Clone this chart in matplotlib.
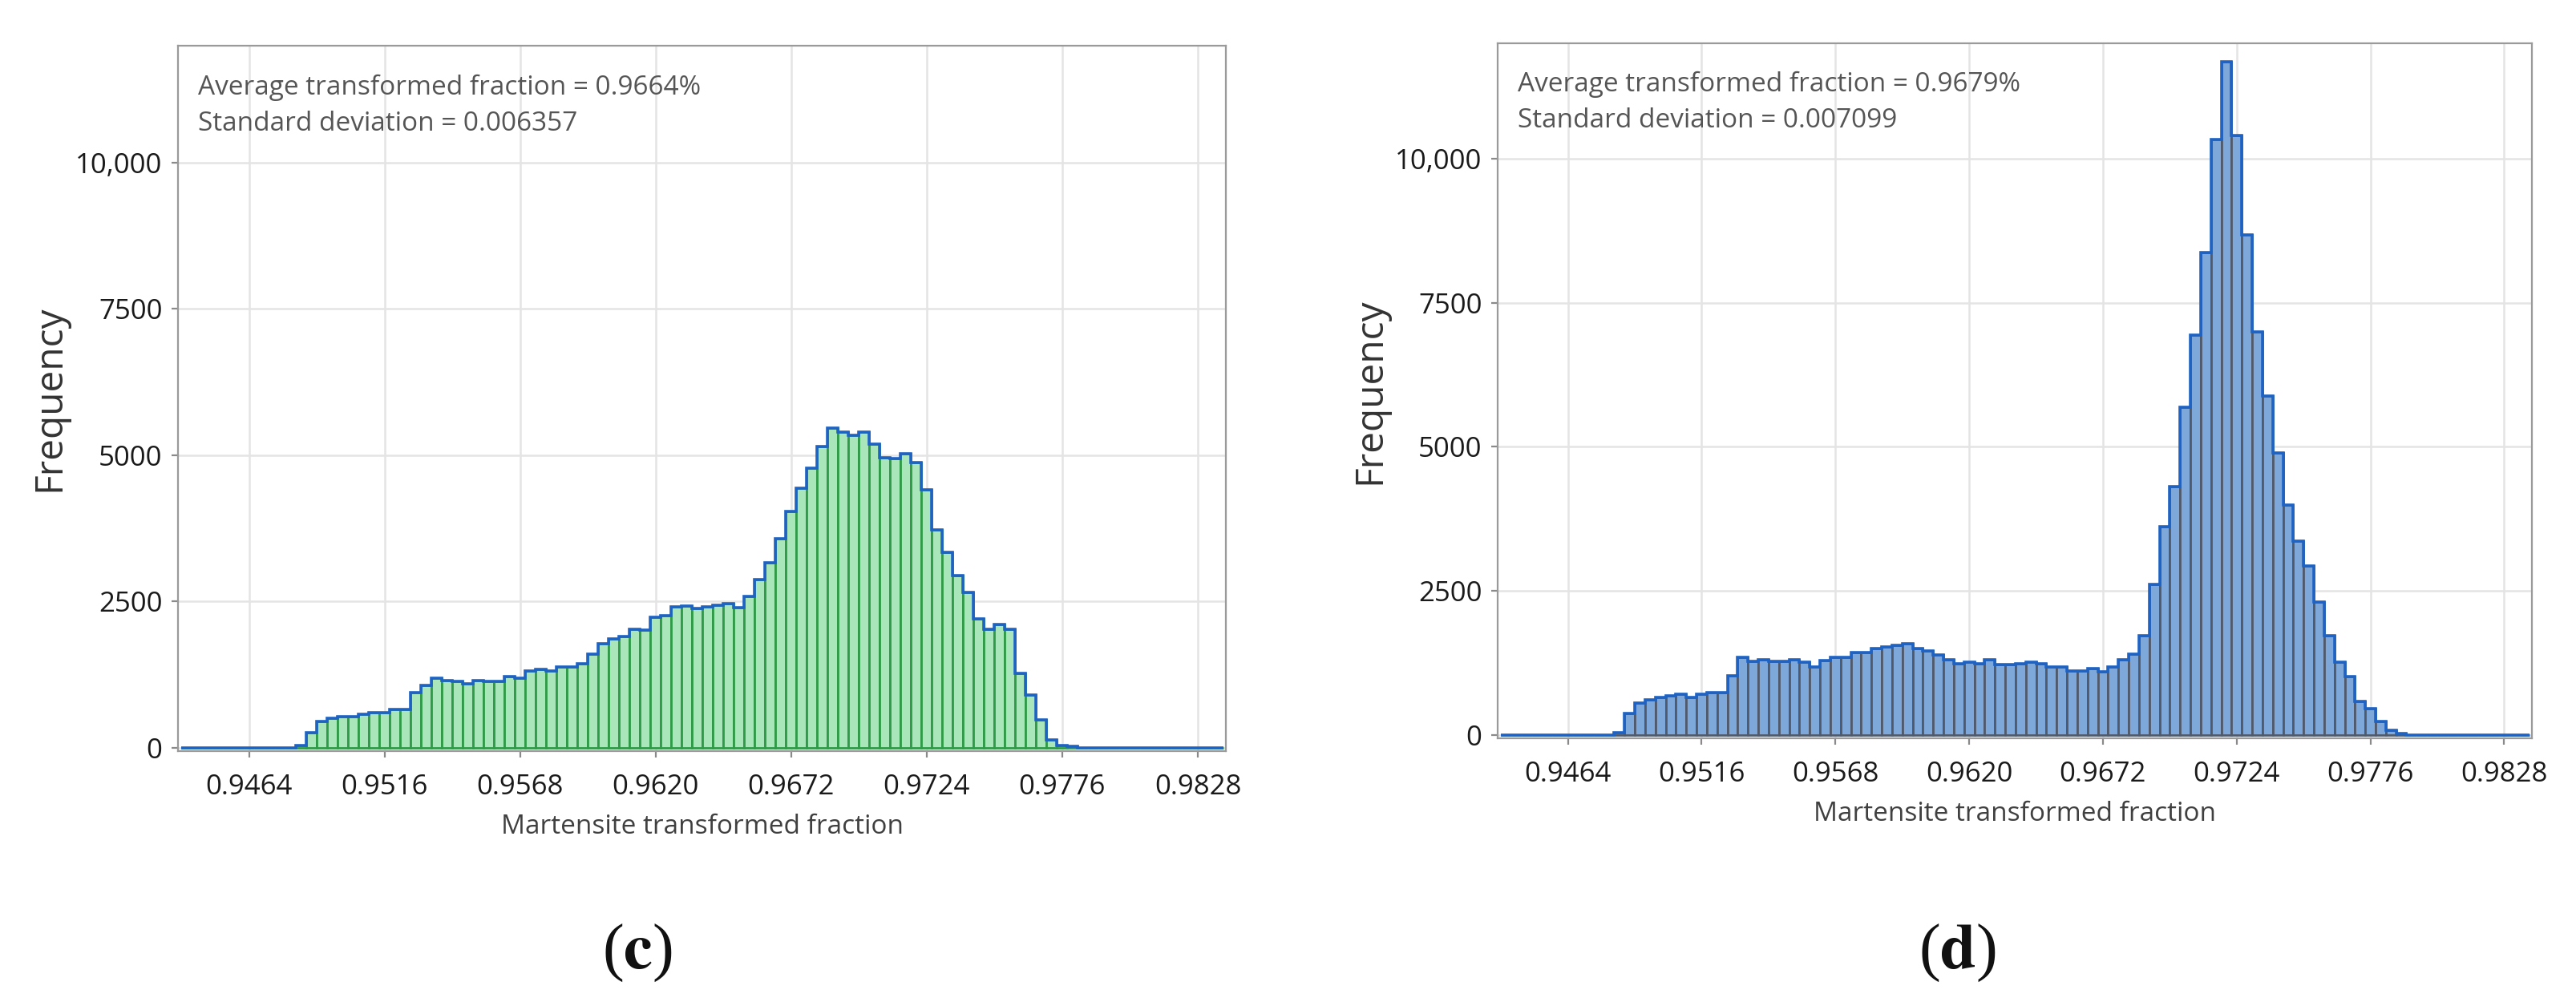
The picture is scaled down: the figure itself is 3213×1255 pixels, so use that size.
import numpy as np
import matplotlib
matplotlib.use("Agg")
import matplotlib.pyplot as plt

plt.rcParams['font.family'] = ['Open Sans', 'DejaVu Sans']
plt.rcParams['mathtext.fontset'] = 'stix'

# ---------------- data ----------------
bin_width = 0.0004
axis_first_center = 0.9440          # first (empty) bin shown on the axis
axis_last_center = 0.9836           # last (empty) bin shown on the axis
xticks = [0.9464, 0.9516, 0.9568, 0.9620, 0.9672, 0.9724, 0.9776, 0.9828]
yticks = [0, 2500, 5000, 7500, 10000]
ytick_labels = ["0", "2500", "5000", "7500", "10,000"]

# panel (c): counts for bins centred from 0.9484 upward
c_first_center = 0.9484
counts_c = [40, 257, 440, 500, 532, 535, 568, 600, 600, 652, 652, 944, 1068, 1188,
            1151, 1128, 1096, 1151, 1128, 1128, 1220, 1188, 1312, 1344, 1312, 1372,
            1372, 1427, 1598, 1782, 1865, 1897, 2026, 2003, 2224, 2256, 2408, 2426,
            2380, 2403, 2431, 2460, 2395, 2582, 2866, 3162, 3565, 4031, 4433, 4771,
            5141, 5457, 5393, 5333, 5393, 5182, 4958, 4936, 5022, 4867, 4410, 3725,
            3345, 2943, 2660, 2203, 2020, 2111, 2020, 1275, 900, 475, 133, 30, 20]
text_c = ["Average transformed fraction = 0.9664%", "Standard deviation = 0.006357"]

# panel (d): counts for bins centred from 0.9484 upward
d_first_center = 0.9484
counts_d = [37, 365, 551, 607, 645, 678, 710, 645, 710, 738, 738, 1019, 1341, 1271,
            1299, 1271, 1271, 1299, 1262, 1178, 1294, 1341, 1341, 1425, 1425, 1495,
            1528, 1551, 1579, 1495, 1463, 1393, 1299, 1238, 1262, 1238, 1300, 1215,
            1215, 1238, 1262, 1238, 1182, 1178, 1112, 1112, 1145, 1089, 1182, 1308,
            1402, 1715, 2617, 3612, 4308, 5680, 6937, 8371, 10335, 11676, 10396, 8683,
            6998, 5880, 4897, 3986, 3365, 2930, 2304, 1715, 1265, 1017, 580, 455, 232,
            80, 24]
text_d = ["Average transformed fraction = 0.9679%", "Standard deviation = 0.007099"]

xlabel = "Martensite transformed fraction"
ylabel = "Frequency"


def full_bins(first_center, counts):
    n_total = int(round((axis_last_center - axis_first_center) / bin_width)) + 1
    centers = axis_first_center + bin_width * np.arange(n_total)
    full = np.zeros(n_total)
    off = int(round((first_center - axis_first_center) / bin_width))
    full[off:off + len(counts)] = counts
    edges = np.append(centers - bin_width / 2, centers[-1] + bin_width / 2)
    return centers, full, edges


fig = plt.figure(figsize=(32.13, 12.55), dpi=100)

panels = [
    dict(rect=[0.0691, 0.2534, 0.4068, 0.7012], first=c_first_center, counts=counts_c,
         fill="#a9e6b9", inner="#2f9a47", text=text_c, tag="c", tagx=0.2475),
    dict(rect=[0.5814, 0.2661, 0.4015, 0.6908], first=d_first_center, counts=counts_d,
         fill="#7ea7da", inner="#4f5b6b", text=text_d, tag="d", tagx=0.7600),
]

outline = "#1e63c4"
for p in panels:
    ax = fig.add_axes(p["rect"])
    centers, full, edges = full_bins(p["first"], p["counts"])
    ax.bar(centers, full, width=bin_width, color=p["fill"], edgecolor=p["inner"],
           linewidth=2.0, zorder=2)
    ax.stairs(full, edges, baseline=0, color=outline, linewidth=2.6, zorder=3)

    ax.set_xlim(0.94367, 0.98388)
    ax.set_ylim(-60, 12000)
    ax.set_xticks(xticks)
    ax.set_xticklabels([f"{t:.4f}" for t in xticks])
    ax.set_yticks(yticks)
    ax.set_yticklabels(ytick_labels)
    ax.grid(True, color="#e4e4e4", linewidth=1.8, zorder=0)
    ax.set_axisbelow(True)
    for s in ax.spines.values():
        s.set_color("#9a9a9a")
        s.set_linewidth(1.6)
    ax.tick_params(axis="both", labelsize=25, colors="#8a8a8a", labelcolor="#1a1a1a",
                   length=6, width=1.6)
    ax.tick_params(axis="x", pad=14)
    ax.tick_params(axis="y", pad=8)
    ax.set_xlabel(xlabel, fontsize=24, color="#404040", labelpad=12)
    ax.set_ylabel(ylabel, fontsize=34.5, color="#333333", labelpad=6)
    ax.text(0.019, 0.941, p["text"][0], transform=ax.transAxes, ha="left",
            va="center", fontsize=24, color="#555555")
    ax.text(0.019, 0.889, p["text"][1], transform=ax.transAxes, ha="left",
            va="center", fontsize=24, color="#555555")
    fig.text(p["tagx"], 0.053, "($\\mathbf{" + p["tag"] + "}$)", ha="center",
             va="center", fontsize=58, family="Liberation Serif", color="#111111")

fig.savefig("out.png", dpi=100, facecolor="white")
